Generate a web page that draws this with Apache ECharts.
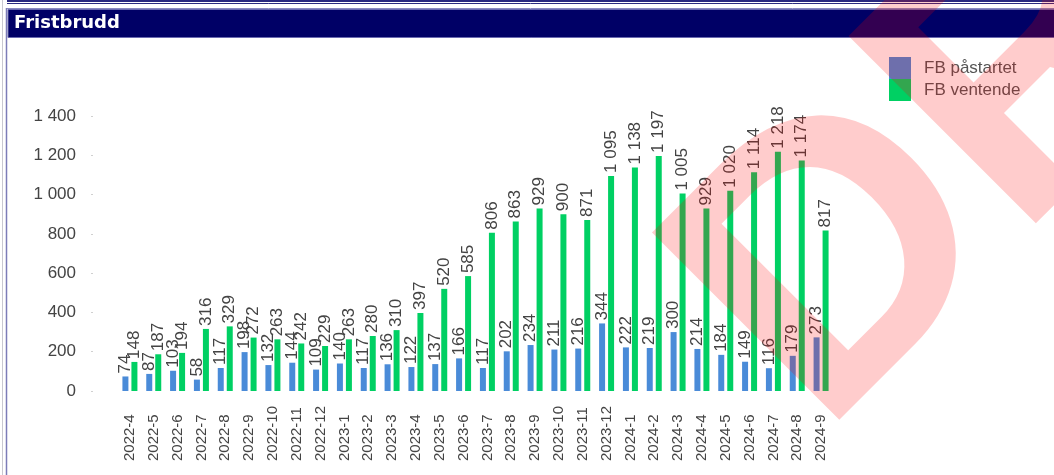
<!DOCTYPE html>
<html>
<head>
<meta charset="utf-8">
<title>Fristbrudd</title>
<script src="https://cdn.jsdelivr.net/npm/echarts@6/dist/echarts.min.js"></script>
<style>
  html, body { margin: 0; padding: 0; background: #ffffff; }
  #chart { width: 1054px; height: 475px; }
</style>
</head>
<body>
<div id="chart"></div>
<script>
// Months (year-month)
const months = [
  '2022-4', '2022-5', '2022-6', '2022-7', '2022-8', '2022-9', '2022-10', '2022-11', '2022-12',
  '2023-1', '2023-2', '2023-3', '2023-4', '2023-5', '2023-6', '2023-7', '2023-8', '2023-9',
  '2023-10', '2023-11', '2023-12',
  '2024-1', '2024-2', '2024-3', '2024-4', '2024-5', '2024-6', '2024-7', '2024-8', '2024-9'
];

// Deadline breaches, started
const fbPastartet = [
  74, 87, 103, 58, 117, 198, 132, 144, 109,
  140, 117, 136, 122, 137, 166, 117, 202, 234, 211, 216, 344,
  222, 219, 300, 214, 184, 149, 116, 179, 273
];

// Deadline breaches, waiting
const fbVentende = [
  148, 187, 194, 316, 329, 272, 263, 242, 229,
  263, 280, 310, 397, 520, 585, 806, 863, 929, 900, 871, 1095,
  1138, 1197, 1005, 929, 1020, 1114, 1218, 1174, 817
];

const seriesNames = ['FB påstartet', 'FB ventende'];
const yTicks = { min: 0, max: 1400, interval: 200 };

// Norwegian style thousands separator: "1 095"
function fmt(v) {
  return String(v).replace(/\B(?=(\d{3})+(?!\d))/g, ' ');
}

const FONT = '"Liberation Sans", Arial, sans-serif';

const chart = echarts.init(document.getElementById('chart'), null, { renderer: 'canvas' });

const barLabel = {
  show: true,
  position: 'top',
  rotate: 90,
  align: 'left',
  verticalAlign: 'middle',
  distance: 3,
  color: '#444444',
  fontFamily: FONT,
  fontSize: 17,
  formatter: p => fmt(p.value)
};

chart.setOption({
  backgroundColor: '#ffffff',
  animation: false,
  textStyle: { fontFamily: FONT },
  grid: { left: 118, right: 221, top: 116, bottom: 84, containLabel: false },
  legend: {
    orient: 'vertical',
    left: 889,
    top: 57,
    padding: 0,
    itemWidth: 22,
    itemHeight: 22,
    itemGap: 0,
    icon: 'rect',
    textStyle: { color: '#555555', fontSize: 17, fontFamily: FONT, padding: [0, 0, 0, 8] },
    data: seriesNames
  },
  xAxis: {
    type: 'category',
    data: months,
    boundaryGap: true,
    axisLine: { show: false },
    axisTick: { show: false },
    axisLabel: {
      rotate: 90,
      align: 'left',
      verticalAlign: 'middle',
      margin: 70,
      color: '#444444',
      fontSize: 15,
      fontFamily: FONT,
      interval: 0
    }
  },
  yAxis: {
    type: 'value',
    min: yTicks.min,
    max: yTicks.max,
    interval: yTicks.interval,
    offset: 25,
    splitLine: { show: false },
    axisLine: { show: false },
    axisTick: { show: true, length: 2, lineStyle: { color: '#d0d0d0' } },
    axisLabel: {
      margin: 17,
      color: '#444444',
      fontSize: 17,
      fontFamily: FONT,
      formatter: v => fmt(v)
    }
  },
  series: [
    {
      name: seriesNames[0],
      type: 'bar',
      data: fbPastartet,
      barWidth: 6,
      barGap: '50%',
      itemStyle: { color: '#4a8bd8' },
      label: barLabel
    },
    {
      name: seriesNames[1],
      type: 'bar',
      data: fbVentende,
      barWidth: 6,
      itemStyle: { color: '#00d063' },
      label: barLabel
    }
  ],
  graphic: [
    // window frame
    { type: 'line', z: 1, shape: { x1: 2.5, y1: 0, x2: 2.5, y2: 475 }, style: { stroke: '#c8c8d0', lineWidth: 1 } },
    { type: 'line', z: 1, shape: { x1: 6.5, y1: 8, x2: 6.5, y2: 475 }, style: { stroke: '#7c7cb8', lineWidth: 1.5 } },
    { type: 'line', z: 1, shape: { x1: 7, y1: 1, x2: 1054, y2: 1 }, style: { stroke: '#2a2a80', lineWidth: 2 } },
    { type: 'line', z: 1, shape: { x1: 7, y1: 3.5, x2: 1054, y2: 3.5 }, style: { stroke: '#2a2a80', lineWidth: 1 } },
    { type: 'line', z: 1, shape: { x1: 7, y1: 8.5, x2: 1054, y2: 8.5 }, style: { stroke: '#8a8ac0', lineWidth: 1 } },
    // header bar with title
    { type: 'rect', z: 2, shape: { x: 8, y: 9.5, width: 1050, height: 28 }, style: { fill: '#000066', stroke: '#6a6ab0', lineWidth: 1 } },
    {
      type: 'text', z: 3, x: 14, y: 23,
      style: { text: 'Fristbrudd', fill: '#ffffff', font: 'bold 18px "DejaVu Sans", Verdana, sans-serif', align: 'left', verticalAlign: 'middle', textAlign: 'left', textVerticalAlign: 'middle' }
    },
    // DRAFT stamp across the chart
    {
      type: 'text', z: 200, x: 746, y: 363, rotation: Math.PI / 4,
      silent: true,
      style: {
        text: 'DRAFT',
        fill: 'rgba(255,0,0,0.2)',
        font: 'bold 385px "Liberation Sans", Arial, sans-serif',
        align: 'left', verticalAlign: 'middle',
        textAlign: 'left', textVerticalAlign: 'middle'
      }
    }
  ]
});
</script>
</body>
</html>
